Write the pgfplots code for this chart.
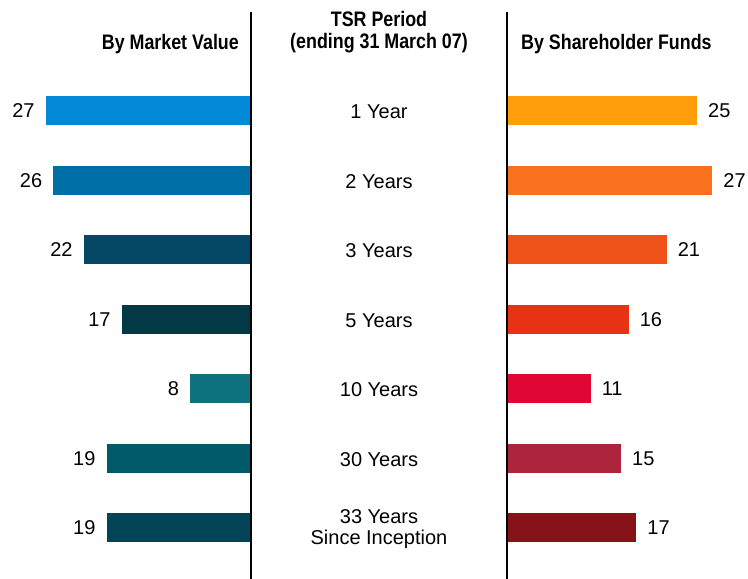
\documentclass[border=0pt]{standalone}
\usepackage{fontspec}
\setmainfont{Liberation Sans}
\newfontfamily\condfont[FakeStretch=0.85]{Liberation Sans}
\usepackage{pgfplots}
\pgfplotsset{compat=1.18}
\usetikzlibrary{calc}

\definecolor{mvA}{RGB}{2,138,216}
\definecolor{mvB}{RGB}{0,111,168}
\definecolor{mvC}{RGB}{5,72,102}
\definecolor{mvD}{RGB}{3,57,70}
\definecolor{mvE}{RGB}{15,114,127}
\definecolor{mvF}{RGB}{0,90,106}
\definecolor{mvG}{RGB}{3,69,86}
\definecolor{sfA}{RGB}{255,158,10}
\definecolor{sfB}{RGB}{249,113,28}
\definecolor{sfC}{RGB}{238,82,24}
\definecolor{sfD}{RGB}{232,50,22}
\definecolor{sfE}{RGB}{224,7,52}
\definecolor{sfF}{RGB}{173,36,61}
\definecolor{sfG}{RGB}{134,19,24}

\newcommand{\lbl}{\fontsize{20bp}{22bp}\selectfont}
\newcommand{\hdr}{\condfont\fontsize{21bp}{22bp}\selectfont\bfseries}

\pgfplotsset{
  tsr/.style={
    scale only axis,
    height=567bp,
    ymin=-0.424, ymax=7.734,
    y dir=reverse,
    xmin=0,
    hide x axis,
    axis line style={draw=none},
    major tick length=0pt,
    xbar, bar width=29bp, bar shift=0pt,
    clip=false,
    nodes near coords,
    /pgf/number format/assume math mode=true,
    every node near coord/.append style={font=\lbl, inner xsep=11bp, inner ysep=0pt, black},
  },
}

\begin{document}
\begin{tikzpicture}
\useasboundingbox (0,0) rectangle (748bp,579bp);

% left: by market value
\begin{axis}[tsr, name=L, at={(0,0)}, anchor=south west,
  width=251bp, xmax=33.03, x dir=reverse, ytick=\empty,
  every node near coord/.append style={anchor=east}]
  \addplot[fill=mvA, draw=none] coordinates {(27,1)};
  \addplot[fill=mvB, draw=none] coordinates {(26,2)};
  \addplot[fill=mvC, draw=none] coordinates {(22,3)};
  \addplot[fill=mvD, draw=none] coordinates {(17,4)};
  \addplot[fill=mvE, draw=none] coordinates {(8,5)};
  \addplot[fill=mvF, draw=none] coordinates {(19,6)};
  \addplot[fill=mvG, draw=none] coordinates {(19,7)};
  \draw[black, line width=1.3bp] (axis cs:0,-0.424) -- (axis cs:0,7.734);
\end{axis}

% right: by shareholder funds
\begin{axis}[tsr, name=R, at={(507bp,0)}, anchor=south west,
  width=241bp, xmax=31.71,
  ytick={1,...,7},
  yticklabels={1 Year,2 Years,3 Years,5 Years,10 Years,30 Years,{33 Years\\Since Inception}},
  yticklabel style={font=\fontsize{20bp}{21bp}\selectfont, align=center, anchor=center, xshift=-128bp, yshift=-1bp}]
  \addplot[fill=sfA, draw=none] coordinates {(25,1)};
  \addplot[fill=sfB, draw=none] coordinates {(27,2)};
  \addplot[fill=sfC, draw=none] coordinates {(21,3)};
  \addplot[fill=sfD, draw=none] coordinates {(16,4)};
  \addplot[fill=sfE, draw=none] coordinates {(11,5)};
  \addplot[fill=sfF, draw=none] coordinates {(15,6)};
  \addplot[fill=sfG, draw=none] coordinates {(17,7)};
  \draw[black, line width=1.3bp] (axis cs:0,-0.424) -- (axis cs:0,7.734);
\end{axis}

\node[font=\hdr, anchor=base east, inner sep=0pt] at ($(L.north east)+(-12bp,-38bp)$) {By Market Value};
\node[font=\hdr, anchor=base west, inner sep=0pt] at ($(R.north west)+(14bp,-38bp)$) {By Shareholder Funds};
\coordinate (M) at ($(L.north east)!0.5!(R.north west)$);
\node[font=\hdr, anchor=base, inner sep=0pt] at ($(M)+(0,-15bp)$) {TSR Period};
\node[font=\hdr, anchor=base, inner sep=0pt] at ($(M)+(0,-37bp)$) {(ending 31 March 07)};
\end{tikzpicture}
\end{document}
